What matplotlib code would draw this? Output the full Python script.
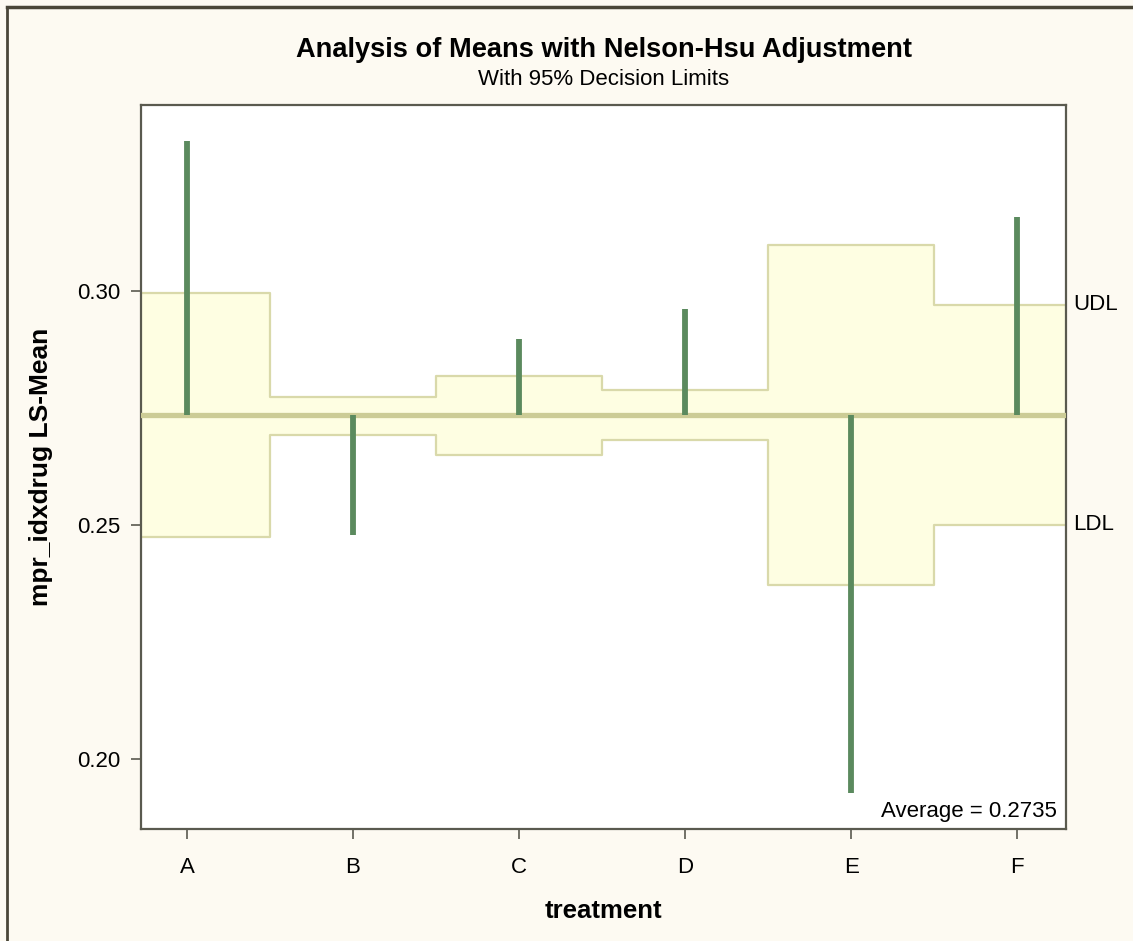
import numpy as np
import matplotlib
matplotlib.use("Agg")
import matplotlib.pyplot as plt
from matplotlib import transforms
from matplotlib.lines import Line2D

plt.rcParams['font.family'] = ['Liberation Sans', 'DejaVu Sans']

# data
treatments = ["A", "B", "C", "D", "E", "F"]
ls_means = [0.3320, 0.2479, 0.2897, 0.2962, 0.1927, 0.3158]
udl = [0.2996, 0.2774, 0.2818, 0.2788, 0.3098, 0.2970]
ldl = [0.2474, 0.2692, 0.2650, 0.2682, 0.2372, 0.2500]
average = 0.2735
yticks = [0.20, 0.25, 0.30]

bg = "#fdfaf2"
band_fill = "#fefee2"
band_edge = "#d9d9aa"
avg_color = "#cccc96"
bar_color = "#5b8a5e"
spine_color = "#5a5a4f"

fig = plt.figure(figsize=(11.33, 9.41), dpi=100, facecolor=bg)
ax = fig.add_axes([0.1245, 0.1190, 0.8164, 0.7694])
ax.set_facecolor("white")

x = np.arange(len(treatments))
edges = np.append(x - 0.5, x[-1] + 0.5)
udl_s = udl + [udl[-1]]
ldl_s = ldl + [ldl[-1]]

# decision limit band
ax.fill_between(edges, ldl_s, udl_s, step='post', color=band_fill, lw=0, zorder=1)
ax.step(edges, udl_s, where='post', color=band_edge, lw=1.6, zorder=2)
ax.step(edges, ldl_s, where='post', color=band_edge, lw=1.6, zorder=2)

# average line
ax.axhline(average, color=avg_color, lw=3.8, zorder=3)

# means as needles from the average
ax.vlines(x, average, ls_means, color=bar_color, lw=4.2, zorder=4)

ax.set_xlim(-0.277, 5.295)
ax.set_ylim(0.185, 0.3397)
ax.set_xticks(x)
ax.set_xticklabels(treatments)
ax.set_yticks(yticks)
ax.set_yticklabels(["%.2f" % v for v in yticks])
ax.tick_params(axis='both', direction='out', length=7, width=1.2, color=spine_color,
               labelsize=16)
ax.tick_params(axis='x', pad=13)
ax.tick_params(axis='y', pad=8)
for s in ax.spines.values():
    s.set_color(spine_color)
    s.set_linewidth(1.6)

ax.set_xlabel("treatment", fontsize=18.5, fontweight='bold', labelpad=15)
ax.set_ylabel("mpr_idxdrug LS-Mean", fontsize=19, fontweight='bold', labelpad=17)

trans = transforms.blended_transform_factory(ax.transAxes, ax.transData)
ax.text(1.008, udl[-1], "UDL", transform=trans, fontsize=16, va='center', ha='left')
ax.text(1.008, ldl[-1], "LDL", transform=trans, fontsize=16, va='center', ha='left')
ax.text(0.99, 0.01, "Average = %.4f" % average, transform=ax.transAxes,
        fontsize=16, ha='right', va='bottom')

fig.text(0.533, 0.947, "Analysis of Means with Nelson-Hsu Adjustment",
         fontsize=19.6, fontweight='bold', ha='center', va='center')
fig.text(0.533, 0.915, "With 95% Decision Limits", fontsize=16, ha='center', va='center')

# outer border (top and left)
fig.add_artist(Line2D([0.0066, 1.0], [0.9926, 0.9926], transform=fig.transFigure,
                      color="#4a4638", lw=2.5))
fig.add_artist(Line2D([0.0066, 0.0066], [0.0, 0.9926], transform=fig.transFigure,
                      color="#4a4638", lw=2))

fig.savefig("out.png", dpi=100, facecolor=bg)
